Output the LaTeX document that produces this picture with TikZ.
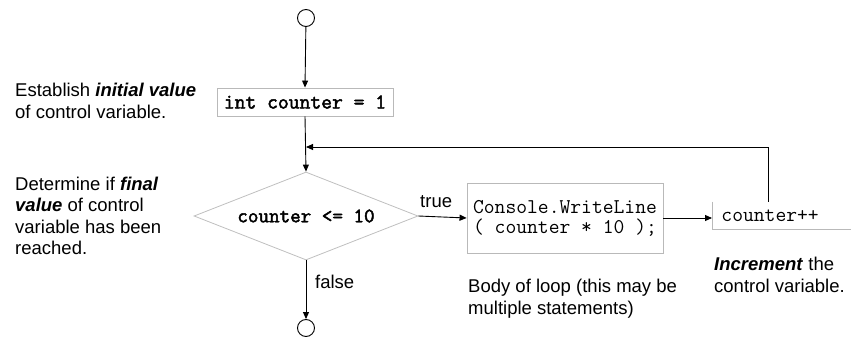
\documentclass[tikz,border=0pt]{standalone}
\usepackage{fontspec}
\setmainfont{Liberation Sans}
\newfontfamily\codebf{Latin Modern Mono}[FakeBold=2.2]
\usepackage{tikz}
\usetikzlibrary{calc,positioning,arrows.meta,shapes.geometric}

\tikzset{
	arr/.style={-{Triangle[length=7pt,width=6pt]}, line width=0.9pt},
	terminal/.style={circle, draw, line width=0.9pt, minimum size=17pt, inner sep=0pt},
	codebox/.style={draw=gray!55, line width=0.9pt, inner sep=0pt, font=\fontsize{21}{20}\selectfont\ttfamily},
	decision/.style={diamond, draw=gray!50, line width=0.8pt, inner sep=0pt, aspect=2.55,
		minimum width=224pt, minimum height=88pt, font=\fontsize{20.5}{20}\selectfont\codebf},
	note/.style={inner sep=0pt, align=left, font=\fontsize{18.5}{21.5}\selectfont},
}

\begin{document}
\begin{tikzpicture}[x=1pt,y=-1pt]
	\useasboundingbox (0,0) rectangle (851,337);

	\node[terminal] (start) at (306,18) {};
	\node[codebox, minimum width=176pt, minimum height=28pt] (init) at (305,102) {\codebf int counter = 1};
	\node[decision] (cond) at (306,216) {counter <= 10};
	\node[codebox, minimum width=196pt, minimum height=70pt, align=left] (body) at (565,218)
		{Console.WriteLine\\( counter * 10 );};
	\node[codebox, draw=none, anchor=west, minimum width=145pt, minimum height=27pt,
		inner xsep=9pt, text width=127pt, align=left] (incr) at (712,215.5) {counter++};
	\node[terminal] (stop) at (306,328) {};

	% only left and bottom edge of the increment box
	\draw[gray!55, line width=0.9pt] (incr.north west) -- (incr.south west) -- (incr.south east);

	\draw[arr] (start) -- (init.north);
	\draw[arr] (init.south) -- (cond.north);
	\draw[arr] (cond.east) -- (body.west);
	\draw[arr] (body.east) -- (body.east -| incr.west);
	\draw[arr] (cond.south) -- (stop);

	\coordinate (back) at (768,147);
	\draw[arr] (incr.north -| back) -- (back) -- (back -| cond.north);

	\node[note, anchor=base west] (true) at (420,207) {true};
	\node[note, anchor=base west] (false) at (315,288) {false};

	% base of a multi-line note is its last line
	\node[note, anchor=base west] (initnote) at (15,118)
		{Establish \textbf{\textit{initial value}}\\of control variable.};
	\node[note, anchor=base west] (condnote) at (15,254.5)
		{Determine if \textbf{\textit{final}}\\\textbf{\textit{value}} of control\\variable has been\\reached.};
	\node[note, anchor=base west] (bodynote) at (468,314)
		{Body of loop (this may be\\multiple statements)};
	\node[note, anchor=base west] (incrnote) at (714,292)
		{\textbf{\textit{Increment}} the\\control variable.};
\end{tikzpicture}
\end{document}
